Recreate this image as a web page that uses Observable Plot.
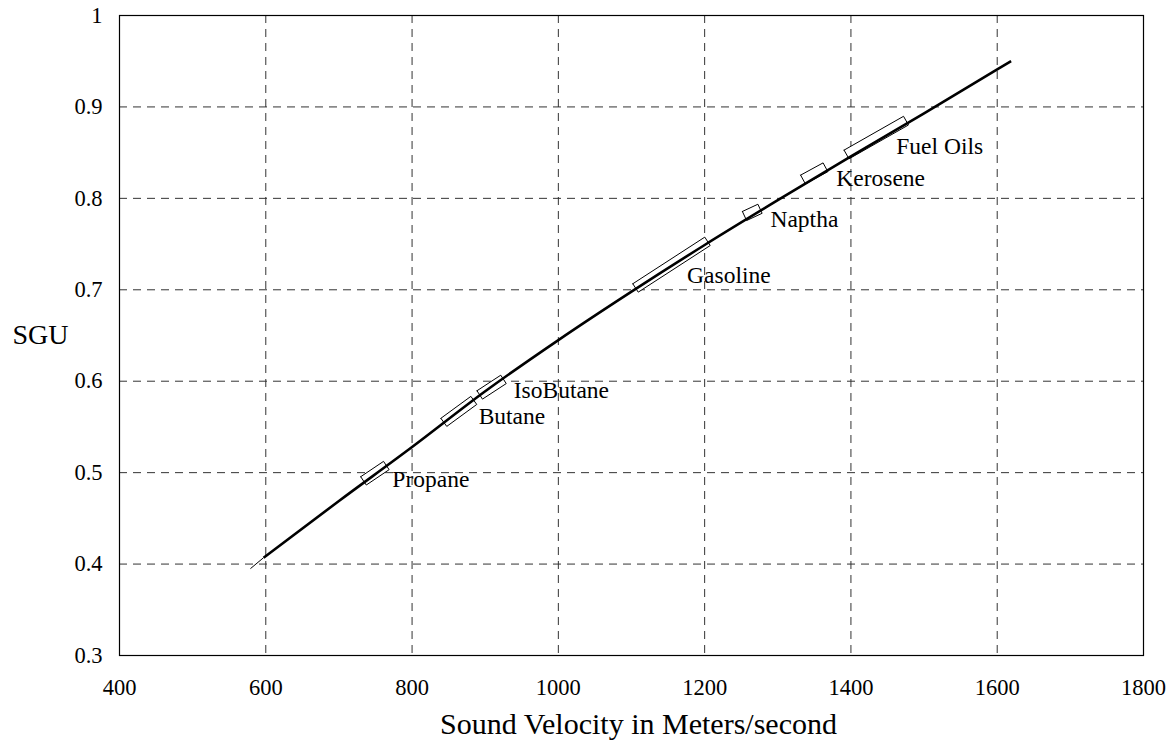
<!DOCTYPE html>
<html>
<head>
<meta charset="utf-8">
<script src="https://cdn.jsdelivr.net/npm/d3@7"></script>
<script src="https://cdn.jsdelivr.net/npm/@observablehq/plot@0.6"></script>
<style>
  html, body { margin: 0; padding: 0; background: #fff; }
  #chart { width: 1173px; height: 745px; }
</style>
</head>
<body>
<div id="chart"></div>
<script>
// Curve: sound velocity (m/s) vs SGU
const curveX = [579, 597, 700, 800, 900, 1000, 1100, 1200, 1300, 1400, 1500, 1600, 1619];
const curveY = [0.395, 0.407, 0.469, 0.528, 0.589, 0.645, 0.698, 0.749, 0.798, 0.846, 0.893, 0.941, 0.950];

// Product ranges (start / end of each box along the curve)
const materials = ["Propane", "Butane", "IsoButane", "Gasoline", "Naptha", "Kerosene", "Fuel Oils"];
const matX1 = [733.6, 843.4, 892.5, 1105.5, 1254.5, 1334.5, 1394.0];
const matY1 = [0.491, 0.555, 0.585, 0.702, 0.7807, 0.8206, 0.848];
const matX2 = [764.8, 884.4, 925.0, 1203.9, 1275.7, 1365.2, 1475.3];
const matY2 = [0.5078, 0.579, 0.602, 0.753, 0.7886, 0.834, 0.885];
// Label anchor positions
const labelX = [773, 891, 939, 1176, 1290, 1380, 1462];
const labelY = [0.4925, 0.5614, 0.5899, 0.7157, 0.7769, 0.8217, 0.8567];

const xTicks = [400, 600, 800, 1000, 1200, 1400, 1600, 1800];
const yTicks = [0.3, 0.4, 0.5, 0.6, 0.7, 0.8, 0.9, 1];
const xLabel = "Sound Velocity in Meters/second";
const yLabel = "SGU";

// layout
const W = 1173, H = 745, mL = 119, mR = 30, mT = 15, mB = 90;
const xDomain = [400, 1800], yDomain = [0.3, 1];
const boxHalfWidth = 5; // px

const curve = curveX.map((x, i) => ({x, y: curveY[i]}));

// Build outlined boxes as polygons (corner offsets computed in pixel space, converted back to data units)
const kx = (W - mL - mR) / (xDomain[1] - xDomain[0]);
const ky = (H - mT - mB) / (yDomain[1] - yDomain[0]);
const boxPts = [];
materials.forEach((name, i) => {
  const ax = matX1[i] * kx, ay = matY1[i] * ky, bx = matX2[i] * kx, by = matY2[i] * ky;
  const len = Math.hypot(bx - ax, by - ay);
  const nx = -(by - ay) / len * boxHalfWidth, ny = (bx - ax) / len * boxHalfWidth;
  const corners = [[ax + nx, ay + ny], [bx + nx, by + ny], [bx - nx, by - ny], [ax - nx, ay - ny], [ax + nx, ay + ny]];
  corners.forEach(([px, py]) => boxPts.push({name, x: px / kx, y: py / ky}));
});
const labels = materials.map((name, i) => ({name, x: labelX[i], y: labelY[i]}));

const font = "'Liberation Serif', 'Times New Roman', Times, serif";

const chart = Plot.plot({
  width: W,
  height: H,
  marginLeft: mL,
  marginRight: mR,
  marginTop: mT,
  marginBottom: mB,
  style: {fontFamily: font, fontSize: "22px", background: "#fff", color: "#000"},
  x: {domain: xDomain, label: null},
  y: {domain: yDomain, label: null},
  marks: [
    Plot.gridX(xTicks.slice(1, -1), {stroke: "#333", strokeOpacity: 1, strokeDasharray: "8,6", strokeWidth: 1}),
    Plot.gridY(yTicks.slice(1, -1), {stroke: "#333", strokeOpacity: 1, strokeDasharray: "8,6", strokeWidth: 1}),
    Plot.line(boxPts, {x: "x", y: "y", z: "name", stroke: "#000", strokeWidth: 1, fill: "#fff", strokeLinejoin: "miter"}),
    Plot.line(curve.slice(0, 2), {x: "x", y: "y", stroke: "#000", strokeWidth: 1, strokeLinecap: "butt"}),
    Plot.line(curve.slice(1), {x: "x", y: "y", stroke: "#000", strokeWidth: 2.6, curve: "monotone-x", strokeLinecap: "butt"}),
    Plot.text(labels, {x: "x", y: "y", text: "name", textAnchor: "start", fontSize: 23.5, fill: "#000", fontFamily: font}),
    Plot.frame({stroke: "#000", strokeWidth: 1.2}),
    Plot.axisX(xTicks, {tickSize: 0, tickPadding: 24, fontSize: 22.5, label: null, tickFormat: d => String(d), fontFamily: font}),
    Plot.axisY(yTicks, {tickSize: 0, tickPadding: 17, fontSize: 22.5, label: null, tickFormat: d => String(d), fontFamily: font}),
    Plot.text([xLabel], {frameAnchor: "bottom", dx: 7, dy: 78, fontSize: 30, fill: "#000", fontFamily: font}),
    Plot.text([yLabel], {frameAnchor: "left", dx: -79, fontSize: 28, fill: "#000", textAnchor: "middle", fontFamily: font})
  ]
});
document.getElementById("chart").appendChild(chart);
</script>
</body>
</html>
